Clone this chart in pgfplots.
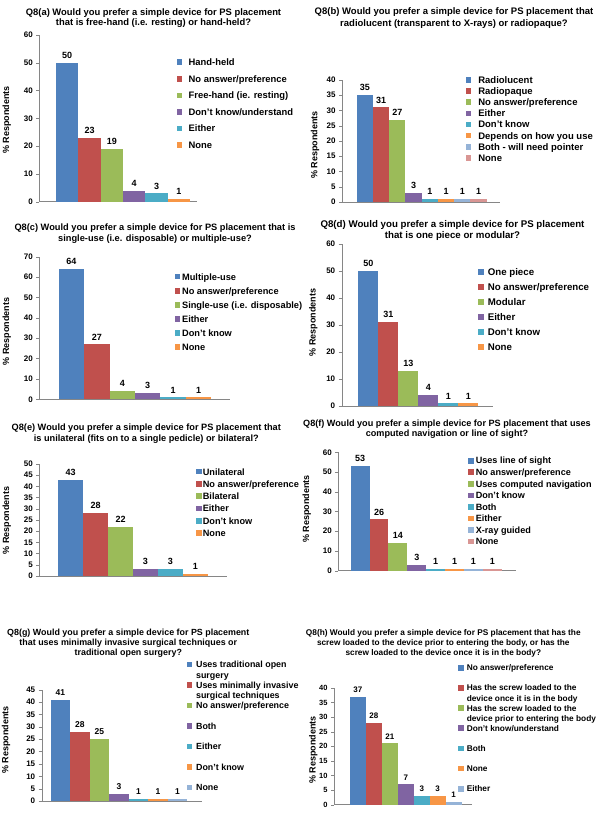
\documentclass[border=0pt]{standalone}
\usepackage{fontspec}
\setmainfont{Liberation Sans}
\usepackage{pgfplots}
\pgfplotsset{compat=1.18}

\definecolor{c1}{HTML}{4F81BD}
\definecolor{c2}{HTML}{C0504D}
\definecolor{c3}{HTML}{9BBB59}
\definecolor{c4}{HTML}{8064A2}
\definecolor{c5}{HTML}{4BACC6}
\definecolor{c6}{HTML}{F79646}
\definecolor{c7}{HTML}{95B3D7}
\definecolor{c8}{HTML}{D99694}
\definecolor{axgray}{HTML}{868686}

\pgfplotsset{
  b/.style={fill=#1, draw=none, bar shift=0pt},
  panel/.style={
    scale only axis, anchor=south west,
    axis x line*=bottom, axis y line*=left,
    axis line style={draw=axgray, -},
    ymin=0, enlargelimits=false, clip=false,
    xtick=\empty,
    ytick style={draw=axgray},
    major tick length=3bp, tick align=outside,
    /pgf/number format/assume math mode=true,
    ybar, bar width=1,
    nodes near coords,
    nodes near coords style={anchor=south, inner sep=0pt, yshift=4bp},
    legend cell align=left,
    legend image code/.code={\fill[##1] (0bp,-2.8bp) rectangle (5.6bp,2.8bp);},
  },
  fonts/.style 2 args={
    yticklabel style={font=\fontsize{#1}{#1}\selectfont},
    nodes near coords style={font=\fontsize{#2}{#2}\selectfont},
  },
  % position (from the axis corner), column sep, font size, baselineskip,
  % text height, text depth, row sep
  leg/.style n args={7}{
    legend style={at={#1}, anchor=north west, draw=none, fill=none,
      inner sep=0pt, outer sep=0pt, row sep=#7, column sep=#2,
      font=\fontsize{#3}{#4}\selectfont,
      nodes={inner sep=0pt, outer sep=0pt, text height=#5, text depth=#6}},
  },
}

\begin{document}
\bfseries
\begin{tikzpicture}
\path[use as bounding box, fill=white] (0bp,0bp) rectangle (600bp,817bp);

% axis corners (south west)
\coordinate (pa) at (39.3bp,615.3bp);
\coordinate (pb) at (342bp,615bp);
\coordinate (pc) at (39.3bp,417.7bp);
\coordinate (pd) at (341.7bp,411bp);
\coordinate (pe) at (39.3bp,241bp);
\coordinate (pf) at (338.3bp,246.3bp);
\coordinate (pg) at (41.7bp,16bp);
\coordinate (ph) at (334bp,12.3bp);

% titles
\node[align=center, font=\fontsize{9.4bp}{10.6bp}\selectfont] at (153.5bp,799bp)
  {Q8(a) Would you prefer a simple device for PS placement\\that is free-hand (i.e. resting) or hand-held?};
\node[align=center, font=\fontsize{9.5bp}{11.4bp}\selectfont] at (454bp,799bp)
  {Q8(b) Would you prefer a simple device for PS placement that\\radiolucent (transparent to X-rays) or radiopaque?};
\node[align=center, font=\fontsize{9.25bp}{11bp}\selectfont] at (155bp,583.2bp)
  {Q8(c) Would you prefer a simple device for PS placement that is\\single-use (i.e. disposable) or multiple-use?};
\node[align=center, font=\fontsize{9.7bp}{11bp}\selectfont] at (452.5bp,586.5bp)
  {Q8(d) Would you prefer a simple device for PS placement\\that is one piece or modular?};
\node[align=center, font=\fontsize{9.2bp}{10.7bp}\selectfont] at (146.3bp,383.3bp)
  {Q8(e) Would you prefer a simple device for PS placement that\\is unilateral (fits on to a single pedicle) or bilateral?};
\node[align=center, font=\fontsize{9.1bp}{10.7bp}\selectfont] at (447bp,387.7bp)
  {Q8(f) Would you prefer a simple device for PS placement that uses\\computed navigation or line of sight?};
\node[align=center, font=\fontsize{8.9bp}{10bp}\selectfont] at (128.3bp,173.7bp)
  {Q8(g) Would you prefer a simple device for PS placement\\that uses minimally invasive surgical techniques or\\traditional open surgery?};
\node[align=center, font=\fontsize{8.3bp}{10bp}\selectfont] at (443.3bp,173.7bp)
  {Q8(h) Would you prefer a simple device for PS placement that has the\\screw loaded to the device prior to entering the body, or has the\\screw loaded to the device once it is in the body?};

% y labels
\begin{scope}[every node/.style={rotate=90, font=\fontsize{9bp}{9bp}\selectfont}]
\node at (6.7bp,697bp) {\% Respondents};
\node at (315bp,672bp) {\% Respondents};
\node at (6.7bp,485.3bp) {\% Respondents};
\node at (313.3bp,494.5bp) {\% Respondents};
\node at (6.7bp,296.5bp) {\% Respondents};
\node at (306.7bp,308bp) {\% Respondents};
\node at (6bp,77bp) {\% Respondents};
\node at (313.3bp,67bp) {\% Respondents};
\end{scope}

% (a)
\begin{axis}[panel, fonts={8bp}{9bp}, at={(pa)}, width=157.4bp, height=166.7bp,
  xmin=-1.248, xmax=5.8, ymax=60, ytick distance=10,
  leg={(137.4bp,143.54bp)}{6.4bp}{9.4bp}{10.6bp}{7.52bp}{0.75bp}{8.28bp}]
\addplot[b=c1] coordinates {(0,50)};
\addplot[b=c2] coordinates {(1,23)};
\addplot[b=c3] coordinates {(2,19)};
\addplot[b=c4] coordinates {(3,4)};
\addplot[b=c5] coordinates {(4,3)};
\addplot[b=c6] coordinates {(5,1)};
\legend{Hand-held, No answer/preference, Free-hand (ie. resting), Don't know/understand, Either, None}
\end{axis}

% (b)
\begin{axis}[panel, fonts={8bp}{9bp}, at={(pb)}, width=158bp, height=122bp,
  xmin=-1.405, xmax=8.318, ymax=40, ytick distance=5,
  leg={(123.7bp,126.18bp)}{7bp}{9.5bp}{11bp}{7.6bp}{0.76bp}{2.78bp}]
\addplot[b=c1] coordinates {(0,35)};
\addplot[b=c2] coordinates {(1,31)};
\addplot[b=c3] coordinates {(2,27)};
\addplot[b=c4] coordinates {(3,3)};
\addplot[b=c5] coordinates {(4,1)};
\addplot[b=c6] coordinates {(5,1)};
\addplot[b=c7] coordinates {(6,1)};
\addplot[b=c8] coordinates {(7,1)};
\legend{Radiolucent, Radiopaque, No answer/preference, Either, Don't know, Depends on how you use, Both - will need pointer, None}
\end{axis}

% (c)
\begin{axis}[panel, fonts={8bp}{9bp}, at={(pc)}, width=190.7bp, height=142.6bp,
  xmin=-1.263, xmax=6.235, ymax=70, ytick distance=10,
  leg={(135.2bp,126.67bp)}{2bp}{9.25bp}{11bp}{7.4bp}{0.74bp}{5.92bp}]
\addplot[b=c1] coordinates {(0,64)};
\addplot[b=c2] coordinates {(1,27)};
\addplot[b=c3] coordinates {(2,4)};
\addplot[b=c4] coordinates {(3,3)};
\addplot[b=c5] coordinates {(4,1)};
\addplot[b=c6] coordinates {(5,1)};
\legend{Multiple-use, No answer/preference, Single-use (i.e. disposable), Either, Don't know, None}
\end{axis}

% (d)
\begin{axis}[panel, fonts={8bp}{9bp}, at={(pd)}, width=151.6bp, height=162bp,
  xmin=-1.33, xmax=6.25, ymax=60, ytick distance=10,
  leg={(136.6bp,137.97bp)}{3.9bp}{9.7bp}{11bp}{7.76bp}{0.78bp}{6.4bp}]
\addplot[b=c1] coordinates {(0,50)};
\addplot[b=c2] coordinates {(1,31)};
\addplot[b=c3] coordinates {(2,13)};
\addplot[b=c4] coordinates {(3,4)};
\addplot[b=c5] coordinates {(4,1)};
\addplot[b=c6] coordinates {(5,1)};
\legend{One piece, No answer/preference, Modular, Either, Don't know, None}
\end{axis}

% (e)
\begin{axis}[panel, fonts={8bp}{9bp}, at={(pe)}, width=187.4bp, height=112bp,
  xmin=-1.263, xmax=6.263, ymax=50, ytick distance=5,
  leg={(156.9bp,108.35bp)}{1bp}{9.2bp}{11bp}{7.36bp}{0.74bp}{4.2bp}]
\addplot[b=c1] coordinates {(0,43)};
\addplot[b=c2] coordinates {(1,28)};
\addplot[b=c3] coordinates {(2,22)};
\addplot[b=c4] coordinates {(3,3)};
\addplot[b=c5] coordinates {(4,3)};
\addplot[b=c6] coordinates {(5,1)};
\legend{Unilateral, No answer/preference, Bilateral, Either, Don't know, None}
\end{axis}

% (f)
\begin{axis}[panel, fonts={8bp}{9bp}, at={(pf)}, width=177.7bp, height=118.4bp,
  xmin=-1.157, xmax=8.258, ymax=60, ytick distance=10,
  leg={(130bp,114bp)}{1.9bp}{9.1bp}{11bp}{7.28bp}{0.73bp}{3.56bp}]
\addplot[b=c1] coordinates {(0,53)};
\addplot[b=c2] coordinates {(1,26)};
\addplot[b=c3] coordinates {(2,14)};
\addplot[b=c4] coordinates {(3,3)};
\addplot[b=c5] coordinates {(4,1)};
\addplot[b=c6] coordinates {(5,1)};
\addplot[b=c7] coordinates {(6,1)};
\addplot[b=c8] coordinates {(7,1)};
\legend{Uses line of sight, No answer/preference, Uses computed navigation, Don't know, Both, Either, X-ray guided, None}
\end{axis}

% (g)
\begin{axis}[panel, fonts={8bp}{8.5bp}, at={(pg)}, width=160bp, height=111.3bp,
  xmin=-0.96, xmax=7.24, ymax=45, ytick distance=5,
  leg={(145bp,140.22bp)}{3.8bp}{8.9bp}{10.3bp}{7.12bp}{0.71bp}{12.67bp}]
\addplot[b=c1] coordinates {(0,41)};
\addplot[b=c2] coordinates {(1,28)};
\addplot[b=c3] coordinates {(2,25)};
\addplot[b=c4] coordinates {(3,3)};
\addplot[b=c5] coordinates {(4,1)};
\addplot[b=c6] coordinates {(5,1)};
\addplot[b=c7] coordinates {(6,1)};
\legend{{\parbox[t]{150bp}{Uses traditional open\\surgery}},
  {\parbox[t]{150bp}{Uses minimally invasive\\surgical techniques}},
  No answer/preference, Both, Either, Don't know, None}
\end{axis}

% (h)
\begin{axis}[panel, fonts={7.5bp}{8bp}, at={(ph)}, width=138bp, height=116.7bp,
  xmin=-1.5, xmax=7.15, ymax=40, ytick distance=5,
  leg={(124.3bp,140.65bp)}{2.9bp}{8.3bp}{10.3bp}{6.64bp}{0.66bp}{12.87bp}]
\addplot[b=c1] coordinates {(0,37)};
\addplot[b=c2] coordinates {(1,28)};
\addplot[b=c3] coordinates {(2,21)};
\addplot[b=c4] coordinates {(3,7)};
\addplot[b=c5] coordinates {(4,3)};
\addplot[b=c6] coordinates {(5,3)};
\addplot[b=c7] coordinates {(6,1)};
\legend{No answer/preference,
  {\parbox[t]{150bp}{Has the screw loaded to the\\device once it is in the body}},
  {\parbox[t]{150bp}{Has the screw loaded to the\\device prior to entering the body}},
  Don't know/understand, Both, None, Either}
\end{axis}
\end{tikzpicture}
\end{document}
